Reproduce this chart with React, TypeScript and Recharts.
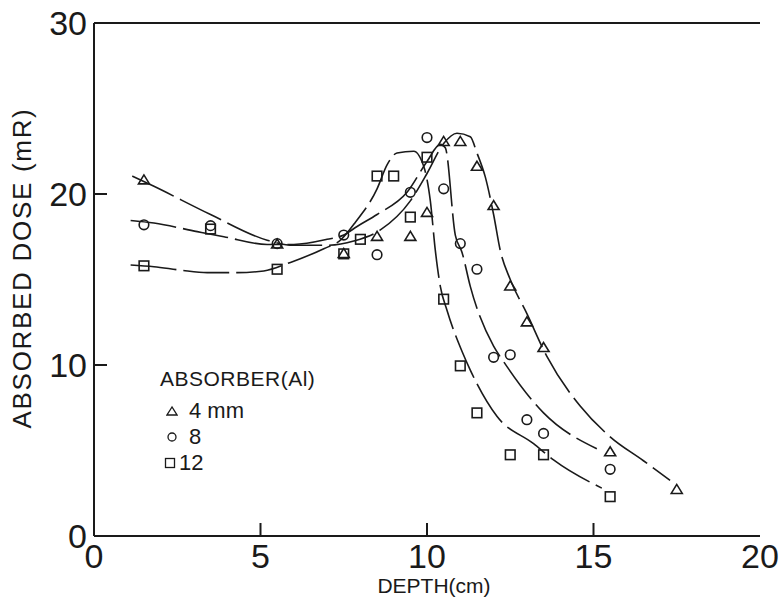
import React from 'react';
import { ComposedChart, Line, Scatter, XAxis, YAxis, ReferenceLine } from 'recharts';

const xTicks = [0, 5, 10, 15, 20];
const yTicks = [0, 10, 20, 30];

// measured points: absorber 4 mm (triangles)
const points4mm = [
  { x: 1.5, y: 20.8 }, { x: 5.5, y: 17.05 }, { x: 7.5, y: 16.5 }, { x: 8.5, y: 17.5 },
  { x: 9.5, y: 17.5 }, { x: 10, y: 18.9 }, { x: 10.5, y: 23.05 }, { x: 11, y: 23.05 },
  { x: 11.5, y: 21.6 }, { x: 12, y: 19.3 }, { x: 12.5, y: 14.6 }, { x: 13, y: 12.5 },
  { x: 13.5, y: 11.0 }, { x: 15.5, y: 4.9 }, { x: 17.5, y: 2.7 },
];
// absorber 8 mm (circles)
const points8mm = [
  { x: 1.5, y: 18.2 }, { x: 3.5, y: 18.15 }, { x: 5.5, y: 17.1 }, { x: 7.5, y: 17.6 },
  { x: 8.5, y: 16.45 }, { x: 9.5, y: 20.1 }, { x: 10, y: 23.3 }, { x: 10.5, y: 20.3 },
  { x: 11, y: 17.1 }, { x: 11.5, y: 15.6 }, { x: 12, y: 10.45 }, { x: 12.5, y: 10.6 },
  { x: 13, y: 6.8 }, { x: 13.5, y: 6.0 }, { x: 15.5, y: 3.9 },
];
// absorber 12 mm (squares)
const points12mm = [
  { x: 1.5, y: 15.8 }, { x: 3.5, y: 17.95 }, { x: 5.5, y: 15.6 }, { x: 7.5, y: 16.5 },
  { x: 8, y: 17.35 }, { x: 8.5, y: 21.05 }, { x: 9, y: 21.05 }, { x: 9.5, y: 18.65 },
  { x: 10, y: 22.15 }, { x: 10.5, y: 13.85 }, { x: 11, y: 9.95 }, { x: 11.5, y: 7.2 },
  { x: 12.5, y: 4.75 }, { x: 13.5, y: 4.75 }, { x: 15.5, y: 2.3 },
];

// hand-drawn fitted curves
const curve4mm = [
  { x: 1.15, y: 21.05 }, { x: 1.8, y: 20.45 }, { x: 3.5, y: 18.8 }, { x: 5.2, y: 17.3 },
  { x: 6.0, y: 17.0 }, { x: 7.0, y: 17.0 }, { x: 7.8, y: 17.25 }, { x: 8.6, y: 17.9 },
  { x: 9.5, y: 19.6 }, { x: 10.0, y: 21.2 }, { x: 10.5, y: 22.95 }, { x: 10.9, y: 23.55 },
  { x: 11.3, y: 23.35 }, { x: 11.5, y: 22.4 }, { x: 11.75, y: 21.0 }, { x: 12.0, y: 18.8 },
  { x: 12.2, y: 16.7 }, { x: 12.5, y: 15.0 }, { x: 13.0, y: 13.0 }, { x: 13.6, y: 10.5 },
  { x: 14.6, y: 7.6 }, { x: 15.5, y: 5.8 }, { x: 16.5, y: 4.4 }, { x: 17.3, y: 3.25 },
];
const curve8mm = [
  { x: 1.1, y: 18.45 }, { x: 1.8, y: 18.3 }, { x: 3.1, y: 17.8 }, { x: 3.9, y: 17.5 },
  { x: 5.2, y: 17.05 }, { x: 6.0, y: 17.05 }, { x: 7.0, y: 17.35 }, { x: 7.5, y: 17.6 },
  { x: 7.9, y: 18.1 }, { x: 8.5, y: 18.8 }, { x: 9.4, y: 20.1 }, { x: 10.0, y: 21.9 },
  { x: 10.4, y: 22.9 }, { x: 10.55, y: 22.7 }, { x: 10.85, y: 17.6 }, { x: 11.05, y: 16.6 },
  { x: 11.3, y: 14.6 }, { x: 12.0, y: 11.1 }, { x: 12.3, y: 10.2 }, { x: 13.5, y: 7.2 },
  { x: 15.1, y: 5.1 },
];
const curve12mm = [
  { x: 1.1, y: 15.85 }, { x: 1.8, y: 15.75 }, { x: 2.6, y: 15.55 }, { x: 3.4, y: 15.4 },
  { x: 4.3, y: 15.4 }, { x: 5.1, y: 15.5 }, { x: 5.9, y: 16.0 }, { x: 6.9, y: 16.8 },
  { x: 7.4, y: 17.3 }, { x: 7.85, y: 18.35 }, { x: 8.5, y: 20.3 }, { x: 8.8, y: 21.7 },
  { x: 9.1, y: 22.4 }, { x: 9.6, y: 22.5 }, { x: 9.92, y: 21.5 }, { x: 10.1, y: 19.6 },
  { x: 10.25, y: 16.7 }, { x: 10.4, y: 14.6 }, { x: 10.6, y: 13.2 }, { x: 11.05, y: 10.8 },
  { x: 11.3, y: 9.7 }, { x: 12.1, y: 7.0 }, { x: 13.2, y: 5.4 }, { x: 13.8, y: 4.45 },
  { x: 15.25, y: 2.8 },
];

const legendTitle = 'ABSORBER(Al)';
const legendLabels = ['4 mm', '8', '12'];

const INK = '#1a1a1a';
const FONT = '"Liberation Sans", Arial, Helvetica, sans-serif';

const Triangle = (props: any) => {
  const { cx, cy } = props;
  if (cx == null || cy == null) return null;
  const h = 9, w = 11;
  return (
    <polygon
      points={`${cx},${cy - h * 0.6} ${cx - w / 2},${cy + h * 0.4} ${cx + w / 2},${cy + h * 0.4}`}
      fill="none" stroke={INK} strokeWidth={1.6} />
  );
};
const Circle = (props: any) => {
  const { cx, cy } = props;
  if (cx == null || cy == null) return null;
  return <circle cx={cx} cy={cy} r={4.8} fill="none" stroke={INK} strokeWidth={1.6} />;
};
const Square = (props: any) => {
  const { cx, cy } = props;
  if (cx == null || cy == null) return null;
  return <rect x={cx - 4.8} y={cy - 4.8} width={9.6} height={9.6} fill="none" stroke={INK} strokeWidth={1.6} />;
};

const YTick = (props: any) => {
  const { x, y, payload } = props;
  const v = payload.value;
  return (
    <g>
      {v !== 0 && v !== 30 && <line x1={x} x2={x + 13} y1={y} y2={y} stroke={INK} strokeWidth={2} />}
      <text x={x - 7} y={y + 12} textAnchor="end" fontSize={34} fontFamily={FONT} fill={INK}>{v}</text>
    </g>
  );
};
const XTick = (props: any) => {
  const { x, y, payload } = props;
  const v = payload.value;
  return (
    <g>
      {v !== 0 && v !== 20 && <line x1={x} x2={x} y1={y} y2={y - 13} stroke={INK} strokeWidth={2} />}
      <text x={x} y={y + 32} textAnchor="middle" fontSize={34} fontFamily={FONT} fill={INK}>{v}</text>
    </g>
  );
};

const curveProps = {
  type: 'monotone' as const,
  dataKey: 'y',
  stroke: INK,
  strokeWidth: 1.6,
  dot: false,
  activeDot: false,
  isAnimationActive: false,
  strokeDasharray: '46 7',
  legendType: 'none' as const,
};

export default function App() {
  return (
    <div style={{ position: 'absolute', left: 0, top: 0, width: 783, height: 604, background: '#fff' }}>
      <ComposedChart width={783} height={604} margin={{ top: 23, right: 23, bottom: 0, left: 0 }}>
        <XAxis type="number" dataKey="x" domain={[0, 20]} ticks={xTicks} allowDataOverflow
          height={68} tickSize={0} tickMargin={0} tick={<XTick />} axisLine={{ stroke: INK, strokeWidth: 2 }}
          label={{
            content: () => (
              <text x={434} y={593} textAnchor="middle" fontSize={21} fontFamily={FONT} fill={INK}>DEPTH(cm)</text>
            ),
          }} />
        <YAxis type="number" dataKey="y" domain={[0, 30]} ticks={yTicks} allowDataOverflow
          width={94} tickSize={0} tickMargin={0} tick={<YTick />} axisLine={{ stroke: INK, strokeWidth: 2 }}
          label={{
            content: () => (
              <text x={31} y={268} transform="rotate(-90 31 268)" textAnchor="middle" fontSize={26}
                fontFamily={FONT} fill={INK} letterSpacing={1.7}>ABSORBED DOSE (mR)</text>
            ),
          }} />
        <ReferenceLine y={30} stroke={INK} strokeWidth={2} />
        <Line data={curve4mm} {...curveProps} name="curve4" />
        <Line data={curve8mm} {...curveProps} name="curve8" />
        <Line data={curve12mm} {...curveProps} name="curve12" />
        <Scatter data={points4mm} name="4 mm" shape={<Triangle />} isAnimationActive={false} />
        <Scatter data={points8mm} name="8" shape={<Circle />} isAnimationActive={false} />
        <Scatter data={points12mm} name="12" shape={<Square />} isAnimationActive={false} />
      </ComposedChart>
      <div style={{ position: 'absolute', left: 160, top: 368, fontFamily: FONT, color: INK, lineHeight: 1 }}>
        <div style={{ fontSize: 21, letterSpacing: 0.5 }}>{legendTitle}</div>
        {legendLabels.map((lab, i) => (
          <div key={lab} style={{ position: 'absolute', left: i === 2 ? 4 : 6, top: 32 + i * 26, display: 'flex', alignItems: 'center', whiteSpace: 'nowrap' }}>
            <svg width={12} height={12} style={{ marginRight: i === 2 ? 3 : 11 }}>
              {i === 0 && <polygon points="6,2 1,10 11,10" fill="none" stroke={INK} strokeWidth={1.3} />}
              {i === 1 && <circle cx={6} cy={6} r={4} fill="none" stroke={INK} strokeWidth={1.3} />}
              {i === 2 && <rect x={1.5} y={1.5} width={9} height={9} fill="none" stroke={INK} strokeWidth={1.3} />}
            </svg>
            <span style={{ fontSize: 22 }}>{lab}</span>
          </div>
        ))}
      </div>
    </div>
  );
}
